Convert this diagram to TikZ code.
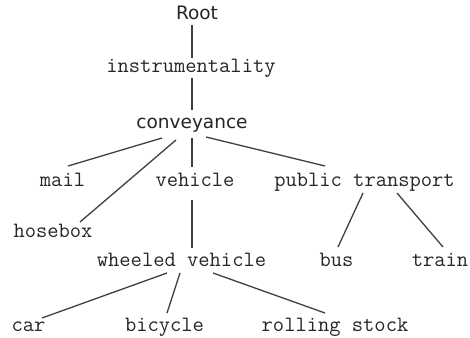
\documentclass[tikz,border=0pt]{standalone}
\usepackage{fontspec}
\newfontfamily\labsans{DejaVu Sans}
\begin{document}
\begin{tikzpicture}[x=1pt,y=-1pt,
  mono/.style={inner sep=0pt,anchor=base,font=\fontsize{21.9}{24}\ttfamily,text=black!85},
  sans/.style={inner sep=0pt,anchor=base,font=\fontsize{18.5}{22}\labsans,text=black!85},
  link/.style={draw=black!75,line width=1.3pt}]
\useasboundingbox[fill=white] (0,0) rectangle (470,337);
\node[sans] (root) at (197,19.5) {Root};
\node[mono] (instr) at (191,72) {instrumentality};
\node[sans] (conv) at (192,128) {conveyance};
\node[mono] (mail) at (62.5,186) {mail};
\node[mono] (vehicle) at (195,186) {vehicle};
\node[mono] (pt) at (364.5,186) {public transport};
\node[mono] (hosebox) at (53,237) {hosebox};
\node[mono] (wheeled) at (181.5,266) {wheeled vehicle};
\node[mono] (bus) at (336.5,266) {bus};
\node[mono] (train) at (440,266) {train};
\node[mono] (car) at (28.5,331) {car};
\node[mono] (bicycle) at (164.5,331) {bicycle};
\node[mono] (rolling) at (335,331) {rolling stock};
\draw[link] ([shift={(-5,5.5)}]root.base) -- ([shift={(1,-14)}]instr.base);
\draw[link] ([shift={(1,6)}]instr.base) -- ([shift={(0,-18)}]conv.base);
\draw[link] ([shift={(-30,10)}]conv.base) -- ([shift={(5.5,-20)}]mail.base);
\draw[link] ([shift={(-16,12)}]conv.base) -- ([shift={(27,-15)}]hosebox.base);
\draw[link] ([shift={(0,10)}]conv.base) -- ([shift={(-3,-19)}]vehicle.base);
\draw[link] ([shift={(14,9)}]conv.base) -- ([shift={(-39.5,-20)}]pt.base);
\draw[link] ([shift={(-3,14)}]vehicle.base) -- ([shift={(10.5,-18)}]wheeled.base);
\draw[link] ([shift={(-1.5,7)}]pt.base) -- ([shift={(1.5,-19)}]bus.base);
\draw[link] ([shift={(32.5,7)}]pt.base) -- ([shift={(3,-19)}]train.base);
\draw[link] ([shift={(-14.5,7)}]wheeled.base) -- ([shift={(13.5,-13)}]car.base);
\draw[link] ([shift={(-1.5,7)}]wheeled.base) -- ([shift={(2.5,-18)}]bicycle.base);
\draw[link] ([shift={(31.5,7)}]wheeled.base) -- ([shift={(-10,-18)}]rolling.base);
\end{tikzpicture}
\end{document}
